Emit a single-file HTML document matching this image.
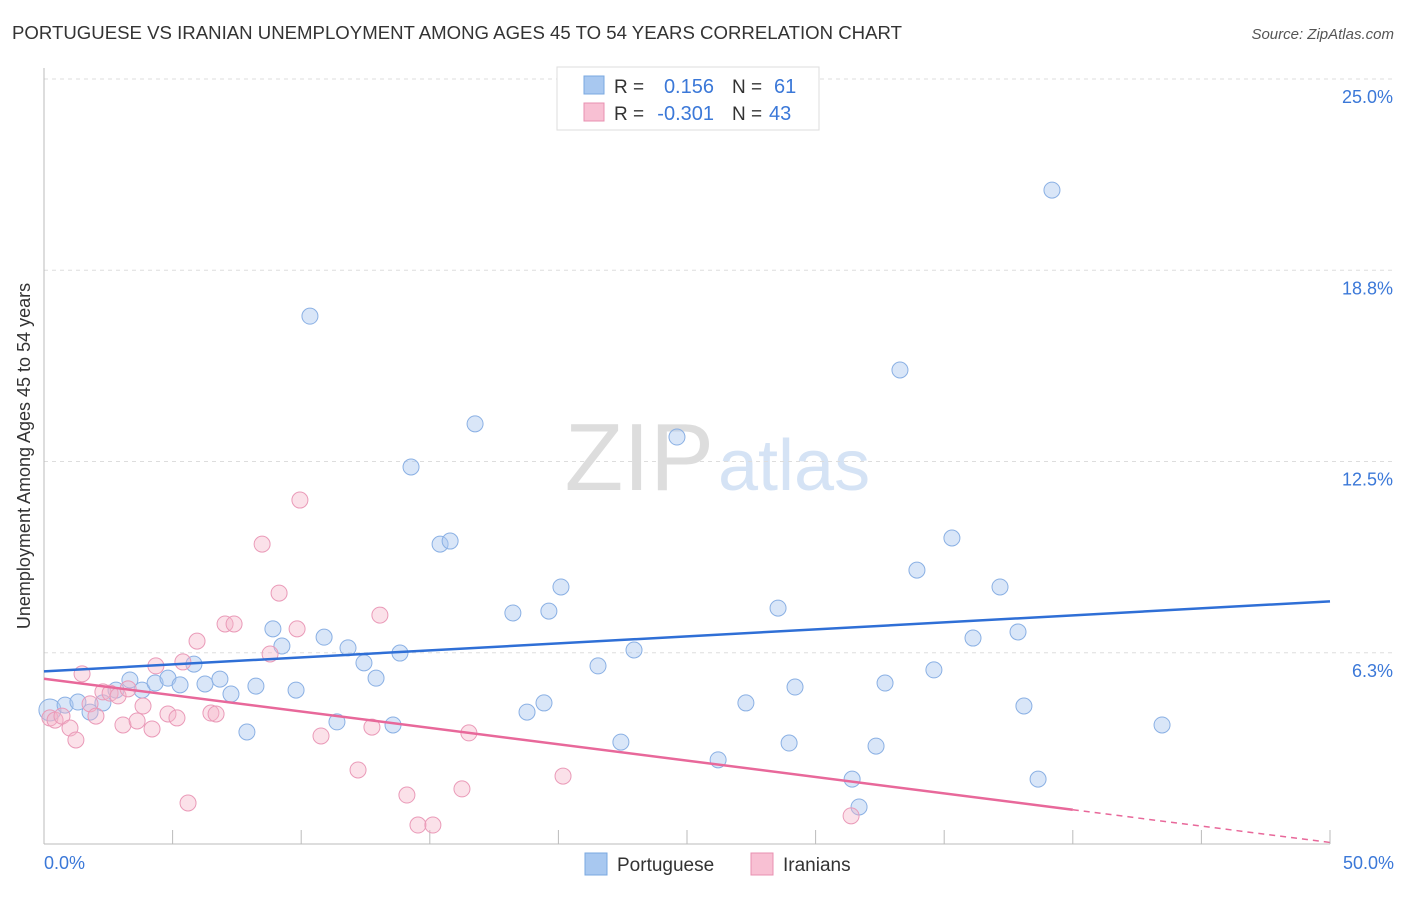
<!DOCTYPE html>
<html><head><meta charset="utf-8"><style>
body{margin:0;background:#fff;font-family:"Liberation Sans",sans-serif;}
svg text{font-family:"Liberation Sans",sans-serif;}
</style></head><body>
<svg id="c" width="1406" height="892" xmlns="http://www.w3.org/2000/svg">
<text x="12" y="39" font-size="18" fill="#333" textLength="890" lengthAdjust="spacingAndGlyphs">PORTUGUESE VS IRANIAN UNEMPLOYMENT AMONG AGES 45 TO 54 YEARS CORRELATION CHART</text>
<text x="1394" y="39" font-size="15" fill="#555" font-style="italic" text-anchor="end">Source: ZipAtlas.com</text>
<text x="714" y="490" font-size="96" fill="#ddd" text-anchor="end" font-family="Liberation Serif">ZIP</text>
<text x="718" y="490" font-size="72" fill="#d5e3f5">atlas</text>
<g id="grid"></g><g id="axes"></g><g id="pts"></g><g id="trends"></g>
<text x="30" y="456" font-size="18" fill="#333" text-anchor="middle" transform="rotate(-90 30 456)">Unemployment Among Ages 45 to 54 years</text>
<text x="44" y="869" font-size="18" fill="#3b78d8">0.0%</text>
<text x="1394" y="869" font-size="18" fill="#3b78d8" text-anchor="end">50.0%</text>
<g>
<rect x="557" y="67" width="262" height="63" fill="#fff" stroke="#ddd"/>
<rect x="584" y="76" width="20" height="18" fill="#a8c8f0" stroke="#7aa8e0"/>
<rect x="584" y="103" width="20" height="18" fill="#f8c0d3" stroke="#e890b0"/>
<text x="614" y="93" font-size="19" fill="#333">R =</text>
<text x="714" y="93" font-size="20" fill="#3b78d8" text-anchor="end">0.156</text>
<text x="732" y="93" font-size="19" fill="#333">N =</text>
<text x="774" y="93" font-size="20" fill="#3b78d8">61</text>
<text x="614" y="120" font-size="19" fill="#333">R =</text>
<text x="714" y="120" font-size="20" fill="#3b78d8" text-anchor="end">-0.301</text>
<text x="732" y="120" font-size="19" fill="#333">N =</text>
<text x="769" y="120" font-size="20" fill="#3b78d8">43</text>
</g>
<g><rect x="585" y="853" width="22" height="22" fill="#a8c8f0" stroke="#7aa8e0"/><text x="617" y="871" font-size="19" fill="#333">Portuguese</text></g>
<g><rect x="751" y="853" width="22" height="22" fill="#f8c0d3" stroke="#e890b0"/><text x="783" y="871" font-size="19" fill="#333">Iranians</text></g>
</svg>
<script>
const yTicks=[25,18.75,12.5,6.25];
const yTickLabels=["25.0%","18.8%","12.5%","6.3%"];
const xTicks=[0,5,10,15,20,25,30,35,40,45,50];
const blueX=[0.23,0.82,1.32,1.79,2.29,2.80,3.34,3.81,4.32,4.82,5.29,5.83,6.26,6.84,7.27,7.89,8.24,8.90,9.25,9.80,10.34,10.89,11.39,11.82,12.44,12.91,13.57,13.84,14.27,15.40,15.79,16.76,18.23,18.78,19.44,19.63,20.10,21.54,22.43,22.94,24.61,26.21,27.29,28.54,28.97,29.20,31.42,31.69,32.35,32.70,33.28,33.94,34.60,35.30,36.12,37.17,37.87,38.10,38.65,39.19,43.47];
const blueY=[4.38,4.54,4.64,4.31,4.61,5.03,5.36,5.03,5.26,5.42,5.20,5.88,5.23,5.39,4.90,3.66,5.16,7.03,6.47,5.03,17.25,6.76,3.99,6.41,5.92,5.42,3.89,6.24,12.32,9.80,9.90,13.73,7.55,4.31,4.61,7.61,8.40,5.82,3.33,6.34,13.30,2.75,4.61,7.71,3.30,5.13,2.12,1.21,3.20,5.26,15.49,8.95,5.69,10.00,6.73,8.40,6.93,4.51,2.12,21.37,3.89];
const pinkX=[0.23,0.43,0.70,1.01,1.24,1.48,1.79,2.02,2.29,2.57,2.88,3.07,3.27,3.62,3.85,4.20,4.35,4.82,5.17,5.40,5.60,5.95,6.49,6.69,7.04,7.39,8.48,8.79,9.14,9.84,9.95,10.77,12.21,12.75,13.06,14.11,14.54,15.12,16.25,16.52,20.18,31.38];
const pinkY=[4.12,4.05,4.18,3.79,3.40,5.56,4.58,4.18,4.97,4.93,4.84,3.89,5.07,4.02,4.51,3.76,5.82,4.25,4.12,5.95,1.34,6.63,4.28,4.25,7.19,7.19,9.80,6.21,8.20,7.03,11.24,3.53,2.42,3.82,7.48,1.60,0.62,0.62,1.80,3.63,2.22,0.92];
const blueTrend=[5.64,7.93];
const pinkTrend=[5.40,0.05];
const pinkSolidEnd=40;
const X=v=>44+v*25.72, Y=v=>844-v*30.6;
const NS="http://www.w3.org/2000/svg";
function mk(t,a,p){const e=document.createElementNS(NS,t);for(const k in a)e.setAttribute(k,a[k]);p.appendChild(e);return e;}
const g=document.getElementById('grid'),ax=document.getElementById('axes'),pts=document.getElementById('pts'),tr=document.getElementById('trends');
yTicks.forEach((v,i)=>{
 const l=mk('line',{x1:44,x2:1394,y1:Y(v),y2:Y(v),stroke:'#ddd','stroke-dasharray':'4,4'},g);
 
 
 const t=mk('text',{x:1393,y:Y(v)+24,'font-size':18,fill:'#3b78d8','text-anchor':'end'},g);
 t.textContent=yTickLabels[i];
 
 
});
const ya=mk('line',{x1:44,x2:44,y1:68,y2:844,stroke:'#bbb'},ax);


const xa=mk('line',{x1:44,x2:1330,y1:844,y2:844,stroke:'#bbb'},ax);


xTicks.forEach(v=>{
 const l=mk('line',{x1:X(v),x2:X(v),y1:830,y2:844,stroke:'#bbb'},ax);
 
 
});
blueX.forEach((x,i)=>{
 const c=mk('circle',{cx:X(x),cy:Y(blueY[i]),r:i==0?11:8,fill:'rgba(170,200,240,0.45)',stroke:'#8ab0e4','stroke-width':1},pts);
 
 
});
pinkX.forEach((x,i)=>{
 const c=mk('circle',{cx:X(x),cy:Y(pinkY[i]),r:8,fill:'rgba(245,180,200,0.4)',stroke:'#ea9ab8','stroke-width':1},pts);
 
 
});
const bl=mk('line',{x1:X(0),y1:Y(blueTrend[0]),x2:X(50),y2:Y(blueTrend[1]),stroke:'#2f6fd6','stroke-width':2.5},tr);


const pAt=v=>pinkTrend[0]+(pinkTrend[1]-pinkTrend[0])*v/50;
const pl=mk('line',{x1:X(0),y1:Y(pAt(0)),x2:X(pinkSolidEnd),y2:Y(pAt(pinkSolidEnd)),stroke:'#e8689a','stroke-width':2.5},tr);


const pd=mk('line',{x1:X(pinkSolidEnd),y1:Y(pAt(pinkSolidEnd)),x2:X(50),y2:Y(pAt(50)),stroke:'#e8689a','stroke-width':1.5,'stroke-dasharray':'6,5'},tr);


</script>
</body></html>
